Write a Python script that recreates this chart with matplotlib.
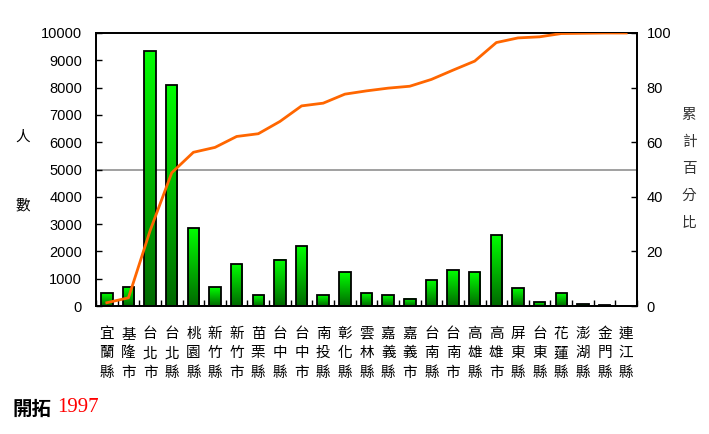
import numpy as np
import matplotlib
matplotlib.use("Agg")
import matplotlib.pyplot as plt
from matplotlib.colors import LinearSegmentedColormap

categories = ["宜蘭縣", "基隆市", "台北市", "台北縣", "桃園縣", "新竹縣", "新竹市", "苗栗縣",
              "台中縣", "台中市", "南投縣", "彰化縣", "雲林縣", "嘉義縣", "嘉義市", "台南縣",
              "台南市", "高雄縣", "高雄市", "屏東縣", "台東縣", "花蓮縣", "澎湖縣", "金門縣", "連江縣"]
counts = [465, 685, 9330, 8085, 2845, 685, 1525, 390, 1685, 2185, 390, 1235, 465, 390, 270,
          940, 1305, 1235, 2590, 650, 135, 465, 60, 25, 0]
cum_pct = [1.2, 3.0, 27.6, 48.8, 56.3, 58.1, 62.1, 63.1, 67.6, 73.3, 74.3, 77.6, 78.8, 79.8,
           80.5, 83.0, 86.4, 89.7, 96.5, 98.2, 98.6, 99.8, 99.9, 100.0, 100.0]
left_ticks = [0, 1000, 2000, 3000, 4000, 5000, 6000, 7000, 8000, 9000, 10000]
right_ticks = [0, 20, 40, 60, 80, 100]

CJK = ["Noto Sans CJK TC", "DejaVu Sans"]
NUM = "Liberation Sans"

W, H = 709, 434
fig = plt.figure(figsize=(W / 100, H / 100), dpi=100)
ax = fig.add_axes([96 / W, 1 - 306 / H, (637 - 96) / W, (306 - 33) / H])

n = len(categories)
x = np.arange(n)
bw = 0.53

cmap = LinearSegmentedColormap.from_list("g", ["#006800", "#00ff00"])
grad = np.linspace(0, 1, 256).reshape(-1, 1)
for xi, v in zip(x, counts):
    if v <= 0:
        continue
    ax.imshow(grad, extent=(xi - bw / 2, xi + bw / 2, 0, v), origin="lower",
              cmap=cmap, aspect="auto", zorder=2, interpolation="bilinear")
ax.bar(x, counts, width=bw, facecolor="none", edgecolor="black", linewidth=1.3, zorder=3)

ax.set_xlim(-0.5, n - 0.5)
ax.set_ylim(0, 10000)
ax.axhline(5000, color="#999999", linewidth=1.3, zorder=1)

ax.set_yticks(left_ticks)
ax.set_yticklabels([str(t) for t in left_ticks], fontfamily=NUM, fontsize=10.5)
ax.tick_params(axis="y", direction="in", length=4, width=1, pad=10)
ax.set_xticks(np.arange(n + 1) - 0.5, minor=True)
ax.set_xticks(x)
ax.set_xticklabels(["\n".join(c) for c in categories], fontfamily=CJK, fontsize=10.5,
                   linespacing=1.5)
ax.tick_params(axis="x", which="major", length=0, pad=15)
ax.tick_params(axis="x", which="minor", direction="in", length=4, width=1)
for s in ax.spines.values():
    s.set_linewidth(1.3)

ax2 = ax.twinx()
ax2.set_ylim(0, 100)
ax2.plot(x, cum_pct, color="#ff6600", linewidth=2, zorder=4)
ax2.set_yticks(right_ticks)
ax2.set_yticklabels([str(t) for t in right_ticks], fontfamily=NUM, fontsize=10.5)
ax2.tick_params(axis="y", direction="in", length=4, width=1, pad=7)
for s in ax2.spines.values():
    s.set_linewidth(1.3)

fig.text(23 / W, 1 - 137 / H, "人", fontfamily=CJK, fontsize=10.5, ha="center", va="center")
fig.text(23 / W, 1 - 205 / H, "數", fontfamily=CJK, fontsize=10.5, ha="center", va="center")
for i, ch in enumerate("累計百分比"):
    fig.text(689 / W, 1 - (115 + i * 27) / H, ch, fontfamily=CJK, fontsize=10.5,
             ha="center", va="center", color="#333333")

fig.text(13 / W, 1 - 409 / H, "開拓", fontfamily=CJK, fontweight="bold", fontsize=14,
         ha="left", va="center")
fig.text(57 / W, 1 - 408 / H, "1997", fontfamily="Liberation Serif", fontsize=15,
         color="red", ha="left", va="center")

fig.savefig("out.png", dpi=100)
